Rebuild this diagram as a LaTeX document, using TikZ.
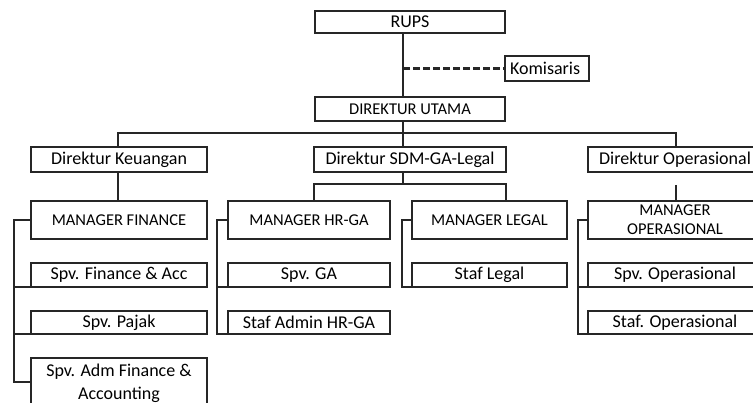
\documentclass[tikz,border=0pt]{standalone}
\usepackage{fontspec}
\setmainfont{Carlito}
\begin{document}
\begin{tikzpicture}[x=1pt,y=-1pt,
  line width=1.4pt,
  every node/.style={draw=black!85, line width=1.3pt, inner sep=0pt, outer sep=0pt, text=black, font=\fontsize{18}{18}\selectfont},
  capsbox/.style={font=\fontsize{16.5}{19}\selectfont, align=center},
  conn/.style={draw=black!85, line width=1.4pt}
]
\useasboundingbox (0,0) rectangle (753,403);
% top
\node[minimum width=190, minimum height=22] (rups) at (410,22) {RUPS};
\node[minimum width=80, minimum height=25, anchor=west, text width=74, align=left, inner xsep=5pt] (kom) at (505,68.5) {Komisaris};
\node[capsbox, minimum width=190, minimum height=24] (du) at (410,109) {DIREKTUR UTAMA};
% directors
\node[minimum width=176, minimum height=25] (dk) at (119,159.5) {Direktur Keuangan};
\node[minimum width=192, minimum height=25] (dsdm) at (410,159.5) {Direktur SDM-GA-Legal};
\node[minimum width=174, minimum height=25] (dop) at (675,159.5) {Direktur Operasional};
% managers
\node[capsbox, minimum width=176, minimum height=38] (mf) at (119,220) {MANAGER FINANCE};
\node[capsbox, minimum width=162, minimum height=38] (mhr) at (309,220) {MANAGER HR-GA};
\node[capsbox, minimum width=155, minimum height=38] (ml) at (489.5,220) {MANAGER LEGAL};
\node[capsbox, minimum width=174, minimum height=38] (mo) at (675,220) {MANAGER\\OPERASIONAL};
% staff finance
\node[minimum width=176, minimum height=24] (sfa) at (119,275) {Spv. Finance \& Acc};
\node[minimum width=176, minimum height=52, align=center, font=\fontsize{18}{23}\selectfont] (sadm) at (119,384) {\raisebox{4pt}{\shortstack{Spv. Adm Finance \&\\[5pt]Accounting}}};
\node[minimum width=176, minimum height=23] (sp) at (119,322.5) {Spv. Pajak};
% staff HR
\node[minimum width=162, minimum height=24] (sga) at (309,275) {Spv. GA};
\node[minimum width=162, minimum height=23] (sahr) at (309,322.5) {Staf Admin HR-GA};
% staff legal
\node[minimum width=155, minimum height=24] (sl) at (489.5,275) {Staf Legal};
% staff op
\node[minimum width=174, minimum height=24] (sop) at (675,275) {Spv. Operasional};
\node[minimum width=174, minimum height=23] (stop) at (675,322.5) {Staf. Operasional};

% connectors
\coordinate (spine) at (403,0);
\draw[conn] (rups.south -| spine) -- (du.north -| spine);
\draw[conn, dashed, dash pattern=on 7pt off 3pt, line width=2.2pt] (kom.west -| spine) -- (kom.west);
\draw[conn] (du.south -| spine) -- (dsdm.north -| spine);
\coordinate (bl) at (118,133);
\coordinate (br) at (676,133);
\draw[conn] (dk.north -| bl) -- (bl) -- (br) -- (dop.north -| br);
\draw[conn] (dk.south -| bl) -- (mf.north -| bl);
% SDM split
\coordinate (sy) at (0,184);
\draw[conn] (dsdm.south -| spine) -- (sy -| spine);
\draw[conn] (mhr.north -| dsdm.west) -- (sy -| dsdm.west) -- (sy -| dsdm.east) -- (ml.north -| dsdm.east);
% Op
\coordinate (oy) at (676,185);
\draw[conn] (oy) -- (mo.north -| oy);
% brackets
\coordinate (fx) at (14,0);
\coordinate (ay) at (0,382);
\draw[conn] (mf.west) -- (mf.west -| fx) -- (ay -| fx) -- (ay -| sadm.west);
\draw[conn] (sfa.south west -| fx) -- (sfa.south west);
\draw[conn] (sp.south west -| fx) -- (sp.south west);
\coordinate (hx) at (217,0);
\draw[conn] (mhr.west) -- (mhr.west -| hx) -- (sahr.south west -| hx) -- (sahr.south west);
\draw[conn] (sga.south west -| hx) -- (sga.south west);
\coordinate (lx) at (402,0);
\draw[conn] (ml.west) -- (ml.west -| lx) -- (sl.south west -| lx) -- (sl.south west);
\coordinate (ox) at (578,0);
\draw[conn] (mo.west) -- (mo.west -| ox) -- (stop.south west -| ox) -- (stop.south west);
\draw[conn] (sop.south west -| ox) -- (sop.south west);
\end{tikzpicture}
\end{document}
